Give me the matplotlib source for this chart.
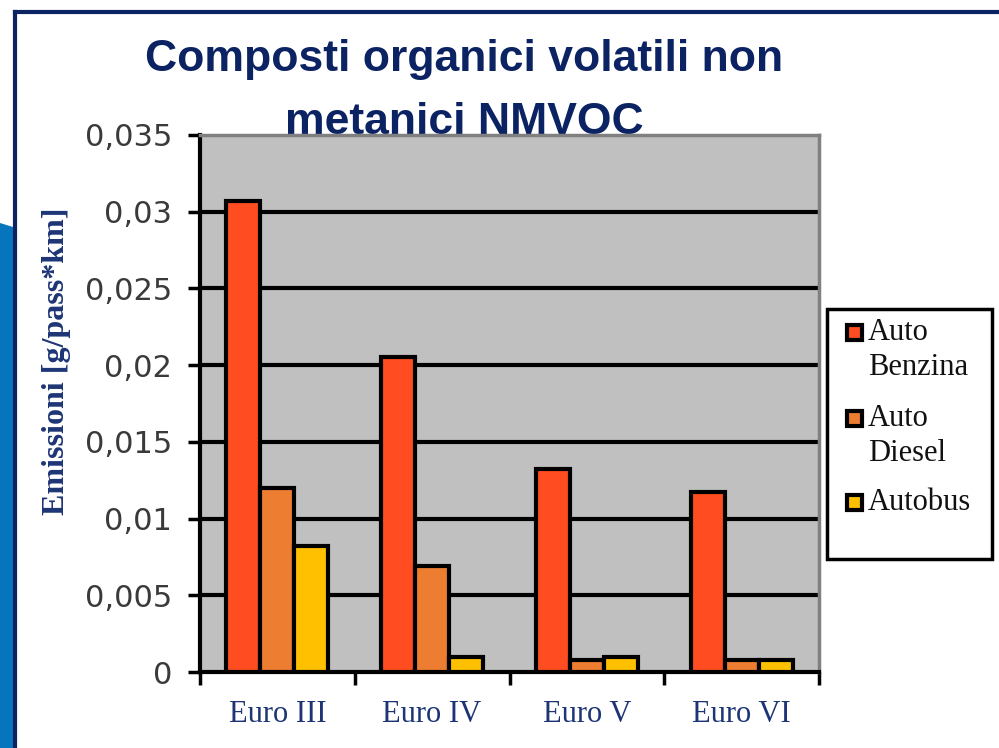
import matplotlib
matplotlib.use('Agg')
import matplotlib.pyplot as plt
from matplotlib import font_manager as fm
from matplotlib.patches import Rectangle, Polygon
from matplotlib.lines import Line2D
import numpy as np

# ---------------- data ----------------
categories = ['Euro III', 'Euro IV', 'Euro V', 'Euro VI']
series_names = ['Auto\nBenzina', 'Auto\nDiesel', 'Autobus']
auto_benzina = [0.0307, 0.0205, 0.0132, 0.0117]
auto_diesel = [0.0120, 0.0069, 0.0008, 0.0008]
autobus = [0.0082, 0.0010, 0.0010, 0.0008]
series_values = [auto_benzina, auto_diesel, autobus]
series_colors = ['#FF4D21', '#ED7D31', '#FFC000']
y_ticks = [0, 0.005, 0.01, 0.015, 0.02, 0.025, 0.03, 0.035]
y_tick_labels = ['0', '0,005', '0,01', '0,015', '0,02', '0,025', '0,03', '0,035']
title_lines = ['Composti organici volatili non', 'metanici NMVOC']
y_label = 'Emissioni [g/pass*km]'

# ---------------- layout helpers ----------------
W, H = 999, 748
fig = plt.figure(figsize=(W / 100, H / 100), dpi=100)
fig.patch.set_facecolor('white')


def fx(px):
    return px / W


def fy(py):
    return 1 - py / H


NAVY = '#0B2263'
LABEL_NAVY = '#1D3575'


def narrow_available():
    try:
        p = fm.findfont(fm.FontProperties(family='Liberation Sans Narrow', weight='bold'),
                        fallback_to_default=False)
        return 'Narrow' in p
    except Exception:
        return False


if narrow_available():
    title_kw = dict(family='Liberation Sans Narrow', size=38, weight='bold')
else:
    title_kw = dict(family='Liberation Sans', size=32, weight='bold')

# ---------------- decoration frame ----------------
fig.add_artist(Polygon([(fx(0), fy(223)), (fx(13), fy(227)), (fx(13), fy(748)), (fx(0), fy(748))],
                       closed=True, transform=fig.transFigure, facecolor='#0575BE',
                       edgecolor='none', zorder=-2))
fig.add_artist(Line2D([fx(15), fx(15)], [fy(12), 0], transform=fig.transFigure,
                      color=NAVY, lw=3, zorder=-1))
fig.add_artist(Line2D([fx(15), 1], [fy(12), fy(12)], transform=fig.transFigure,
                      color=NAVY, lw=3, zorder=-1))

# ---------------- title ----------------
fig.text(fx(464), fy(71), title_lines[0], ha='center', va='baseline', color=NAVY,
         zorder=-1, **title_kw)
fig.text(fx(464), fy(134), title_lines[1], ha='center', va='baseline', color=NAVY,
         zorder=-1, **title_kw)

# ---------------- axes ----------------
ax = fig.add_axes([fx(200), fy(672), fx(819) - fx(200), fy(135) - fy(672)])
ax.set_facecolor('#C0C0C0')
x = np.arange(len(categories))
w = 0.22
for i, (vals, col) in enumerate(zip(series_values, series_colors)):
    ax.bar(x + (i - 1) * w, vals, w, color=col, edgecolor='black', linewidth=3, zorder=3)

ax.set_xlim(-0.5, len(categories) - 0.5)
ax.set_ylim(y_ticks[0], y_ticks[-1])

for s in ['left', 'bottom']:
    ax.spines[s].set_color('black')
    ax.spines[s].set_linewidth(3)
for s in ['top', 'right']:
    ax.spines[s].set_color('#808080')
    ax.spines[s].set_linewidth(2.5)

ax.set_yticks(y_ticks)
ax.set_yticklabels(y_tick_labels)
ax.tick_params(axis='y', direction='out', length=9, width=2.5, pad=11,
               labelsize=22, labelcolor='#3A3A3A', color='black')

ax.set_xticks(np.arange(-0.5, len(categories)))
ax.set_xticklabels([''] * (len(categories) + 1))
ax.set_xticks(x, minor=True)
ax.set_xticklabels(categories, minor=True)
ax.tick_params(axis='x', which='major', direction='out', length=9, width=2.5, color='black')
ax.tick_params(axis='x', which='minor', length=0, pad=20)
for t in ax.get_xticklabels(minor=True):
    t.set_fontfamily('Liberation Serif')
    t.set_fontsize(22)
    t.set_color(LABEL_NAVY)

ax.yaxis.grid(True, color='black', linewidth=3)
ax.set_axisbelow(True)
gls = ax.get_ygridlines()
gls[0].set_visible(False)
gls[-1].set_visible(False)

# ---------------- y label ----------------
fig.text(fx(57), fy(361), y_label, rotation=90, ha='center', va='center',
         family='Liberation Serif', weight='bold', size=23, color=LABEL_NAVY)

# ---------------- legend ----------------
fig.add_artist(Rectangle((fx(827), fy(559)), fx(992) - fx(827), fy(309) - fy(559),
                         transform=fig.transFigure, facecolor='white', edgecolor='black',
                         lw=2.5, zorder=5))
first_baselines = [340, 426, 510]
for name, col, b in zip(series_names, series_colors, first_baselines):
    cy = b - 8
    fig.add_artist(Rectangle((fx(854 - 7.5), fy(cy + 7.5)), fx(15), fy(0) - fy(15),
                             transform=fig.transFigure, facecolor=col, edgecolor='black',
                             lw=3, zorder=6))
    for j, line in enumerate(name.split('\n')):
        fig.text(fx(868), fy(b + 35 * j), line, ha='left', va='baseline',
                 family='Liberation Serif', size=22, color='#111111', zorder=7)

fig.savefig('out.png', dpi=100)
